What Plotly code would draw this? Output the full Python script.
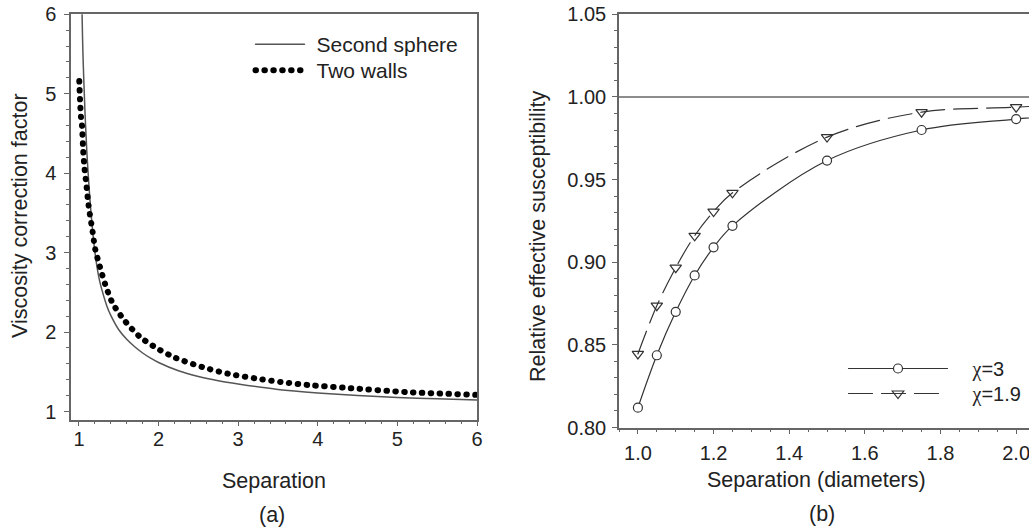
import plotly.graph_objects as go

# ---------------- data: panel (a) ----------------
sphere_x = [1.03, 1.04, 1.05, 1.075, 1.1, 1.125, 1.15, 1.2, 1.25, 1.3, 1.35, 1.4, 1.5, 1.6,
            1.7, 1.8, 1.9, 2.0, 2.25, 2.5, 2.75, 3.0, 3.5, 4.0, 4.5, 5.0, 5.5, 6.0]
sphere_y = [6.5, 5.95, 5.5, 4.79, 4.25, 3.85, 3.52, 3.01, 2.69, 2.49, 2.33, 2.21, 2.03, 1.91,
            1.815, 1.737, 1.672, 1.618, 1.513, 1.441, 1.388, 1.347, 1.278, 1.234, 1.202,
            1.178, 1.160, 1.145]

walls_x = [1.004, 1.013, 1.025, 1.038, 1.054, 1.071, 1.096, 1.12, 1.172, 1.205, 1.264, 1.33,
           1.42, 1.565, 1.766, 1.99, 2.21, 2.55, 2.88, 3.22, 3.55, 3.89, 4.33, 5.12, 6.0]
walls_y = [5.16, 4.93, 4.71, 4.60, 4.27, 4.05, 3.83, 3.60, 3.26, 3.04, 2.82, 2.60,
           2.37, 2.155, 1.94, 1.79, 1.677, 1.56, 1.475, 1.417, 1.37, 1.333, 1.30, 1.245, 1.21]

# ---------------- data: panel (b) ----------------
sep_x = [1.0, 1.05, 1.1, 1.15, 1.2, 1.25, 1.5, 1.75, 2.0, 2.25]
chi3_y = [0.812, 0.8437, 0.870, 0.892, 0.909, 0.922, 0.9615, 0.980, 0.9866, 0.991]
chi19_y = [0.8445, 0.8737, 0.8967, 0.916, 0.9306, 0.942, 0.9757, 0.9908, 0.9938, 0.997]

W, H = 1029, 529
FONT = "Liberation Sans, Arial, sans-serif"
AX = "#666666"
TXT = "#222222"

fig = go.Figure()

fig.add_trace(go.Scatter(x=sphere_x, y=sphere_y, mode="lines", name="\u2004Second sphere",
                         line=dict(color="#555555", width=1.5, shape="spline", smoothing=0.8),
                         xaxis="x", yaxis="y", legend="legend"))
fig.add_trace(go.Scatter(x=walls_x, y=walls_y, mode="lines", name="\u2004Two walls",
                         line=dict(color="black", width=6, shape="spline", smoothing=0.8,
                                   dash="0.5px,8.4px"),
                         xaxis="x", yaxis="y", legend="legend2"))

chi = "<span style=\"font-family:'Liberation Serif'\">χ</span>"
fig.add_trace(go.Scatter(x=sep_x, y=chi3_y, mode="lines+markers", name="\u2003" + chi + "=3",
                         line=dict(color="#333333", width=1.2, shape="spline"),
                         marker=dict(symbol="circle", size=9, color="white",
                                     line=dict(color="#333333", width=1.2)),
                         xaxis="x2", yaxis="y2", legend="legend3"))
fig.add_trace(go.Scatter(x=sep_x, y=chi19_y, mode="lines+markers", name="\u2003" + chi + "=1.9",
                         line=dict(color="#333333", width=1.2, shape="spline", dash="24px,9px"),
                         marker=dict(symbol="triangle-down-open", size=10, color="#333333",
                                     line=dict(width=1.2)),
                         xaxis="x2", yaxis="y2", legend="legend4"))

tickfont = dict(family=FONT, size=20, color=TXT)
common = dict(showline=True, linecolor=AX, linewidth=1.5, showgrid=False,
              zeroline=False, ticks="outside", ticklen=5, tickwidth=1.2, tickcolor=AX,
              tickfont=tickfont, ticklabeloverflow="allow")


def leg(left_px, top_px, width, size):
    return dict(x=left_px / W, y=(H - top_px) / H, xanchor="left", yanchor="top",
                bgcolor="rgba(0,0,0,0)", itemwidth=width, borderwidth=0,
                font=dict(family=FONT, size=size, color=TXT))


fig.update_layout(
    width=W, height=H, margin=dict(l=0, r=0, t=0, b=0, autoexpand=False),
    paper_bgcolor="white", plot_bgcolor="white",
    xaxis=dict(domain=[71/W, 477/W], range=[0.9, 6], dtick=1, tick0=0, mirror=True,
               minor=dict(dtick=0.2, ticklen=3, ticks="outside", tickcolor=AX),
               ticklabelstandoff=-4, anchor="y", **common),
    yaxis=dict(domain=[(H-419.5)/H, (H-14.3)/H], range=[0.9, 6], dtick=1, tick0=0, mirror=True,
               minor=dict(dtick=0.2, ticklen=3, ticks="outside", tickcolor=AX),
               ticklabelstandoff=4, anchor="x", **common),
    xaxis2=dict(domain=[619/W, 1.0], range=[0.95, 2.034], dtick=0.2, tick0=0, mirror=True,
                tickformat=".1f",
                minor=dict(dtick=0.05, ticklen=3, ticks="outside", tickcolor=AX),
                ticklabelstandoff=2, anchor="y2", **common),
    yaxis2=dict(domain=[(H-427.5)/H, (H-14.3)/H], range=[0.80, 1.05], dtick=0.05,
                tick0=0, tickformat=".2f", mirror=False,
                minor=dict(dtick=0.01, ticklen=3, ticks="outside", tickcolor=AX),
                ticklabelstandoff=2, anchor="x2", **common),
    legend=leg(250.5, 24, 49, 21),
    legend2=leg(250.5, 50, 49, 21),
    legend3=leg(843.5, 349, 99, 20),
    legend4=leg(843.5, 374, 99, 20),
    showlegend=True,
)

fig.add_shape(type="line", xref="x2 domain", yref="y2", x0=0, x1=1, y0=1.0, y1=1.0,
              line=dict(color=AX, width=1.5))

tfont = dict(family=FONT, size=21.5, color=TXT)
ann = [
    dict(text="Viscosity correction factor", x=20/W, y=(H-216)/H, textangle=-90),
    dict(text="Separation", x=274/W, y=(H-481)/H),
    dict(text="(a)", x=272/W, y=(H-515)/H),
    dict(text="Relative effective susceptibility", x=538/W, y=(H-237)/H, textangle=-90),
    dict(text="Separation (diameters)", x=816/W, y=(H-480)/H),
    dict(text="(b)", x=822/W, y=(H-514)/H),
]
for a in ann:
    fig.add_annotation(xref="paper", yref="paper", xanchor="center", yanchor="middle",
                       showarrow=False, font=tfont, **a)

post = ("document.body.style.margin='0';"
        "document.documentElement.style.overflow='hidden';"
        "var s=document.createElement('style');"
        "s.textContent='path.js-line{stroke-linecap:round;}';"
        "document.head.appendChild(s);")
fig.write_html("out.html", post_script=post, config={"displayModeBar": False})
